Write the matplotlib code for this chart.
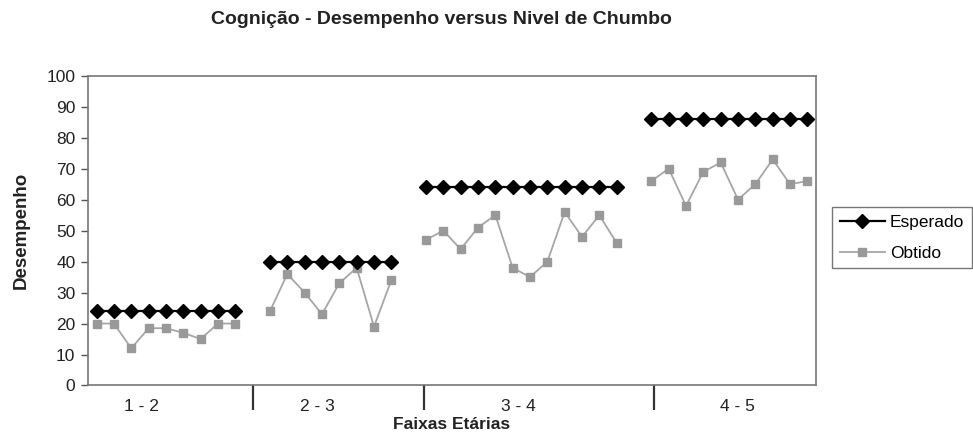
import numpy as np
import matplotlib
matplotlib.use("Agg")
import matplotlib.pyplot as plt

plt.rcParams['font.family'] = ['Liberation Sans', 'DejaVu Sans']

# Faixas etárias e valores por grupo
faixas = ["1 - 2", "2 - 3", "3 - 4", "4 - 5"]
esperado = [24, 40, 64, 86]
obtido_12 = [20, 20, 12, 18.5, 18.5, 17, 15, 20, 20]
obtido_23 = [24, 36, 30, 23, 33, 38, 19, 34]
obtido_34 = [47, 50, 44, 51, 55, 38, 35, 40, 56, 48, 55, 46]
obtido_45 = [66, 70, 58, 69, 72, 60, 65, 73, 65, 66]
yticks = list(range(0, 101, 10))

grupos = [obtido_12, obtido_23, obtido_34, obtido_45]

# monta as series com uma posicao vazia entre os grupos
esp_vals, obt_vals = [], []
for i, g in enumerate(grupos):
    if i > 0:
        esp_vals.append(np.nan)
        obt_vals.append(np.nan)
    esp_vals += [esperado[i]] * len(g)
    obt_vals += g
esp_vals = np.array(esp_vals, dtype=float)
obt_vals = np.array(obt_vals, dtype=float)
x = np.arange(len(esp_vals))

# posicoes das divisoes e dos rotulos do eixo x
divisoes = [9, 18.9, 32.15]
pos_rotulos = [2.56, 12.71, 24.31, 36.95]

fig = plt.figure(figsize=(9.73, 4.43), dpi=100)
ax = fig.add_axes([0.0904, 0.1298, 0.7483, 0.6992])

ax.plot(x, esp_vals, color='black', lw=1.6, marker='D', ms=7.3,
        mfc='black', mec='black', label='Esperado', zorder=3)
ax.plot(x, obt_vals, color='#a6a6a6', lw=1.3, marker='s', ms=6,
        mfc='#999999', mec='#999999', label='Obtido', zorder=2)

ax.set_xlim(-0.5, len(x) - 0.5)
ax.set_ylim(0, 100)
ax.set_yticks(yticks)
ax.tick_params(axis='y', direction='out', length=5, width=1, color='#555555',
               labelsize=12.5, labelcolor='#222222', pad=4)

ax.set_xticks(divisoes)
ax.set_xticklabels([])
ax.tick_params(axis='x', which='major', direction='out', length=18, width=1.6,
               color='#333333')
ax.set_xticks(pos_rotulos, minor=True)
ax.set_xticklabels(faixas, minor=True)
ax.tick_params(axis='x', which='minor', length=0, labelsize=12.5,
               labelcolor='#222222', pad=10)

for s in ax.spines.values():
    s.set_color('#777777')
    s.set_linewidth(1.2)

ax.set_ylabel('Desempenho', fontsize=13.5, fontweight='bold', color='#222222', labelpad=12)
ax.set_xlabel('Faixas Etárias', fontsize=12.5, fontweight='bold', color='#222222', labelpad=1)

fig.text(0.454, 0.955, 'Cognição - Desempenho versus Nivel de Chumbo',
         ha='center', va='center', fontsize=14, fontweight='bold', color='#222222')

leg = fig.legend(loc='upper left', bbox_to_anchor=(0.855, 0.533), fontsize=12.5,
                 frameon=True, fancybox=False, handlelength=2.6, handletextpad=0.3,
                 borderpad=0.45, labelspacing=0.9, borderaxespad=0)
leg.get_frame().set_edgecolor('#555555')
leg.get_frame().set_linewidth(1.0)

fig.savefig('out.png', dpi=100)
